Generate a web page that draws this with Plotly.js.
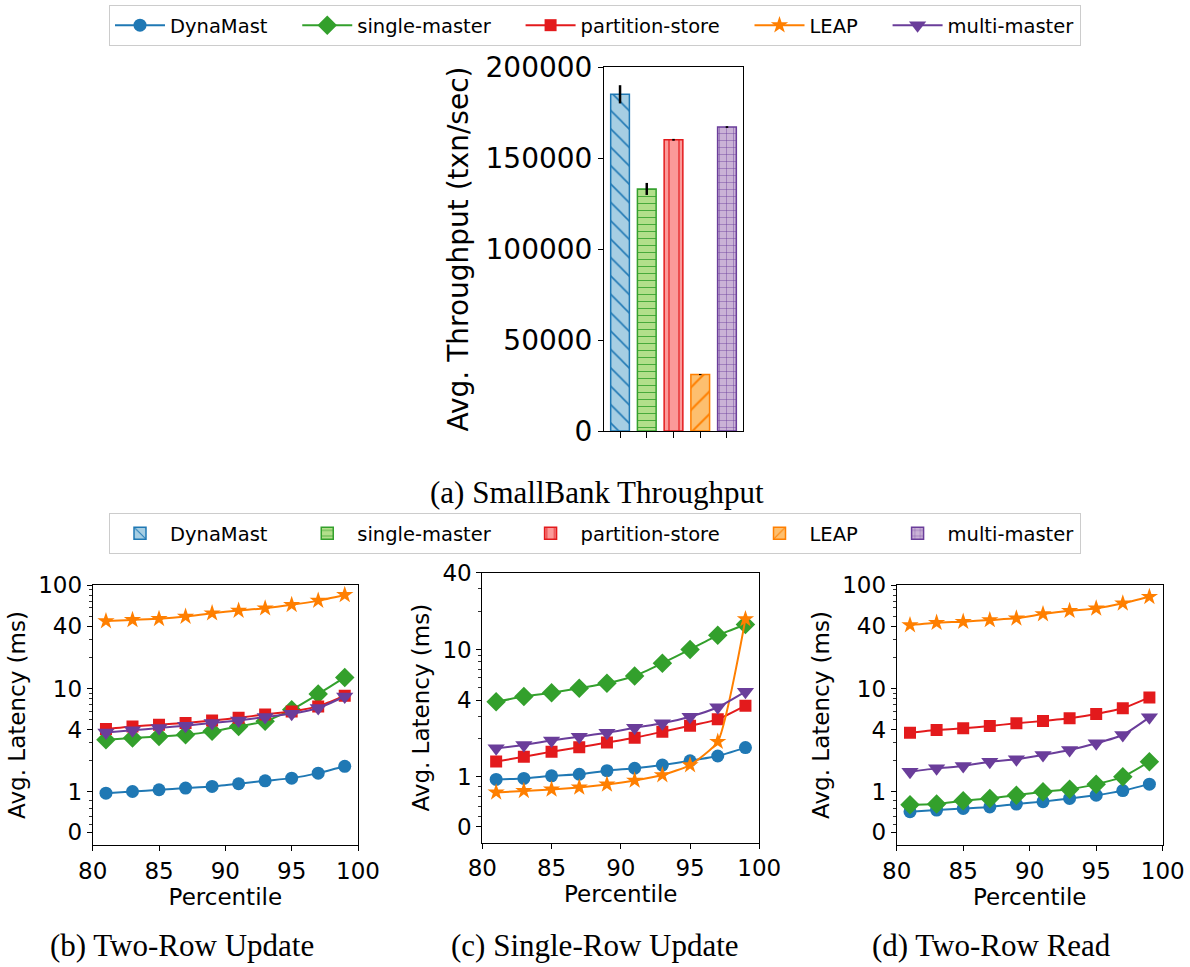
<!DOCTYPE html>
<html>
<head>
<meta charset="utf-8">
<script src="https://cdn.plot.ly/plotly-3.0.1.min.js"></script>
<style>html,body{margin:0;padding:0;background:#fff;}#chart{width:1190px;height:967px;}</style>
</head>
<body>
<div id="chart"></div>
<script>
// ---------- data ----------
const systems = ['DynaMast', 'single-master', 'partition-store', 'LEAP', 'multi-master'];
const throughput = [185000, 133000, 160000, 31000, 167000];
const throughputErr = [5000, 3300, 500, 300, 500];
const percentiles = [81, 83, 85, 87, 89, 91, 93, 95, 97, 99];

// (b) Two-Row Update latency (ms)
const twoRowUpdate_DynaMast = [0.97, 1.01, 1.05, 1.09, 1.13, 1.20, 1.28, 1.36, 1.52, 1.77];
const twoRowUpdate_single = [3.20, 3.32, 3.44, 3.57, 3.85, 4.30, 4.81, 6.24, 8.83, 12.8];
const twoRowUpdate_partition = [4.06, 4.30, 4.47, 4.64, 4.91, 5.21, 5.61, 6.00, 6.71, 8.51];
const twoRowUpdate_LEAP = [44.8, 46.0, 47.1, 49.5, 53.4, 56.6, 59.6, 64.3, 70.6, 80.2];
const twoRowUpdate_multi = [3.76, 3.94, 4.15, 4.37, 4.64, 4.91, 5.30, 5.70, 6.47, 8.37];

// (c) Single-Row Update latency (ms)
const singleRowUpdate_DynaMast = [0.95, 0.97, 1.02, 1.05, 1.12, 1.17, 1.24, 1.34, 1.46, 1.70];
const singleRowUpdate_single = [3.89, 4.27, 4.58, 4.96, 5.43, 6.19, 7.80, 10.0, 12.9, 15.7];
const singleRowUpdate_partition = [1.32, 1.44, 1.58, 1.71, 1.86, 2.03, 2.26, 2.52, 2.83, 3.62];
const singleRowUpdate_LEAP = [0.69, 0.72, 0.75, 0.79, 0.85, 0.93, 1.035, 1.24, 1.89, 17.3];
const singleRowUpdate_multi = [1.68, 1.78, 1.93, 2.07, 2.22, 2.43, 2.64, 2.97, 3.52, 4.67];

// (d) Two-Row Read latency (ms)
const twoRowRead_DynaMast = [0.51, 0.55, 0.59, 0.63, 0.70, 0.76, 0.84, 0.92, 1.03, 1.19];
const twoRowRead_single = [0.68, 0.70, 0.78, 0.84, 0.92, 1.005, 1.06, 1.19, 1.40, 1.96];
const twoRowRead_partition = [3.73, 3.96, 4.12, 4.34, 4.61, 4.85, 5.15, 5.67, 6.43, 8.20];
const twoRowRead_LEAP = [41.0, 43.2, 44.2, 45.9, 47.6, 52.4, 56.4, 59.4, 66.5, 76.9];
const twoRowRead_multi = [1.57, 1.69, 1.78, 1.96, 2.07, 2.28, 2.54, 2.95, 3.55, 5.26];

const throughputTicks = [0, 50000, 100000, 150000, 200000];
const latencyTicks = [0, 1, 4, 10, 40, 100];
const latencyMinor = [0.2, 0.4, 0.6, 0.8, 2, 3, 5, 6, 7, 8, 9, 20, 30, 50, 60, 70, 80, 90];
const percentileTicks = [80, 85, 90, 95, 100];

// ---------- styles ----------
const lineColors = ['#1f78b4', '#33a02c', '#e31a1c', '#ff7f00', '#6a3d9a'];
const fillColors = ['#a6cee3', '#b2df8a', '#fb9a99', '#fdbf6f', '#cab2d6'];
const symbols = ['circle', 'diamond', 'square', 'star', 'triangle-down'];
const msizes = [13, 15, 12, 13, 15];
const hatches = ['\\', '-', '|', '/', '+'];
const hatchSize = [13, 7, 10, 16, 7];
const PAD = '\u00a0\u00a0\u00a0\u00a0';

// symmetric-log style transform (linear below 1, log above)
const LIN = 0.39;
function symlog(v) { return v <= 1 ? LIN * v : LIN + Math.log10(v); }

const FONT = 'DejaVu Sans';
const W = 1190, H = 967;
const px = x => x / W;
const py = y => 1 - y / H;

const panels = [
  {ax: '2', series: [twoRowUpdate_DynaMast, twoRowUpdate_single, twoRowUpdate_partition, twoRowUpdate_LEAP, twoRowUpdate_multi]},
  {ax: '3', series: [singleRowUpdate_DynaMast, singleRowUpdate_single, singleRowUpdate_partition, singleRowUpdate_LEAP, singleRowUpdate_multi]},
  {ax: '4', series: [twoRowRead_DynaMast, twoRowRead_single, twoRowRead_partition, twoRowRead_LEAP, twoRowRead_multi]}
];

const legendName = i => systems[i] + (i < systems.length - 1 ? PAD : '');

const traces = [];
panels.forEach((p, pi) => {
  p.series.forEach((vals, si) => {
    traces.push({
      type: 'scatter', mode: 'lines+markers',
      x: percentiles, y: vals.map(symlog),
      name: legendName(si),
      xaxis: 'x' + p.ax, yaxis: 'y' + p.ax,
      line: {color: lineColors[si], width: 2, shape: 'spline', smoothing: 0.5},
      marker: {symbol: symbols[si], size: msizes[si], color: lineColors[si]},
      showlegend: pi === 0, legend: 'legend',
      legendrank: si
    });
  });
});

systems.forEach((s, i) => {
  traces.push({
    type: 'bar', x: [i], y: [throughput[i]], width: 0.7,
    name: legendName(i), xaxis: 'x', yaxis: 'y',
    marker: {
      color: fillColors[i],
      line: {color: lineColors[i], width: 1.5},
      pattern: {shape: hatches[i], fgcolor: lineColors[i], bgcolor: fillColors[i], size: hatchSize[i], solidity: 0.12}
    },
    error_y: {type: 'data', array: [throughputErr[i]], color: '#000', thickness: 2.5, width: 0},
    legend: 'legend2', showlegend: true
  });
});

const baseAxis = {
  showline: true, mirror: true, linecolor: '#000', linewidth: 1,
  showgrid: false, zeroline: false, ticks: 'outside', ticklen: 5, tickwidth: 1, tickcolor: '#000',
  tickfont: {family: FONT, size: 23, color: '#000'}
};

function latencyY(domain, range, anchor) {
  return Object.assign({}, baseAxis, {
    domain: domain, range: range, anchor: anchor,
    tickmode: 'array', tickvals: latencyTicks.map(symlog), ticktext: latencyTicks.map(String),
    minor: {tickmode: 'array', tickvals: latencyMinor.map(symlog), ticks: 'outside', ticklen: 3, tickwidth: 0.8, tickcolor: '#000', showgrid: false},
    title: {text: 'Avg. Latency (ms)', font: {family: FONT, size: 23, color: '#000'}, standoff: 6}
  });
}
function percentileX(domain, anchor) {
  return Object.assign({}, baseAxis, {
    domain: domain, range: [80, 100], anchor: anchor,
    tickmode: 'array', tickvals: percentileTicks,
    title: {text: 'Percentile', font: {family: FONT, size: 23, color: '#000'}, standoff: 3}
  });
}

const legendCommon = {
  orientation: 'h', x: 0.5, xanchor: 'center', yanchor: 'top',
  bordercolor: '#cccccc', borderwidth: 1, bgcolor: '#fff',
  font: {family: FONT, size: 19.5, color: '#000'}, traceorder: 'normal', itemwidth: 50
};

const captionFont = {family: 'Liberation Serif', size: 31, color: '#000'};

const layout = {
  width: W, height: H,
  margin: {l: 0, r: 0, t: 0, b: 0},
  paper_bgcolor: '#fff', plot_bgcolor: '#fff',
  font: {family: FONT, color: '#000'},
  barmode: 'overlay',
  showlegend: true,
  xaxis: Object.assign({}, baseAxis, {
    domain: [px(604), px(743)], range: [-0.6, 4.6], anchor: 'y',
    tickmode: 'array', tickvals: [0, 1, 2, 3, 4], ticktext: ['', '', '', '', ''], ticklen: 6
  }),
  yaxis: Object.assign({}, baseAxis, {
    domain: [py(431), py(67)], range: [0, 200000], anchor: 'x',
    tickmode: 'array', tickvals: throughputTicks, ticktext: throughputTicks.map(String),
    tickfont: {family: FONT, size: 28, color: '#000'},
    title: {text: 'Avg. Throughput (txn/sec)', font: {family: FONT, size: 28, color: '#000'}, standoff: 8}
  }),
  xaxis2: percentileX([px(92.7), px(358)], 'y2'),
  yaxis2: latencyY([py(845), py(585)], [-0.1227, 2.39], 'x2'),
  xaxis3: percentileX([px(482.3), px(759.3)], 'y3'),
  yaxis3: latencyY([py(842.7), py(572.7)], [-0.1255, 1.992], 'x3'),
  xaxis4: percentileX([px(896.7), px(1162.7)], 'y4'),
  yaxis4: latencyY([py(845), py(585)], [-0.1227, 2.39], 'x4'),
  legend: Object.assign({}, legendCommon, {y: py(5)}),
  legend2: Object.assign({}, legendCommon, {y: py(513)}),
  annotations: [
    {text: '(a) SmallBank Throughput', x: px(597), y: py(492), xref: 'paper', yref: 'paper', showarrow: false, xanchor: 'center', yanchor: 'middle', font: captionFont},
    {text: '(b) Two-Row Update', x: px(182), y: py(945), xref: 'paper', yref: 'paper', showarrow: false, xanchor: 'center', yanchor: 'middle', font: captionFont},
    {text: '(c) Single-Row Update', x: px(595), y: py(945), xref: 'paper', yref: 'paper', showarrow: false, xanchor: 'center', yanchor: 'middle', font: captionFont},
    {text: '(d) Two-Row Read', x: px(991), y: py(945), xref: 'paper', yref: 'paper', showarrow: false, xanchor: 'center', yanchor: 'middle', font: captionFont}
  ]
};

Plotly.newPlot('chart', traces, layout, {displayModeBar: false, staticPlot: true});
</script>
</body>
</html>
